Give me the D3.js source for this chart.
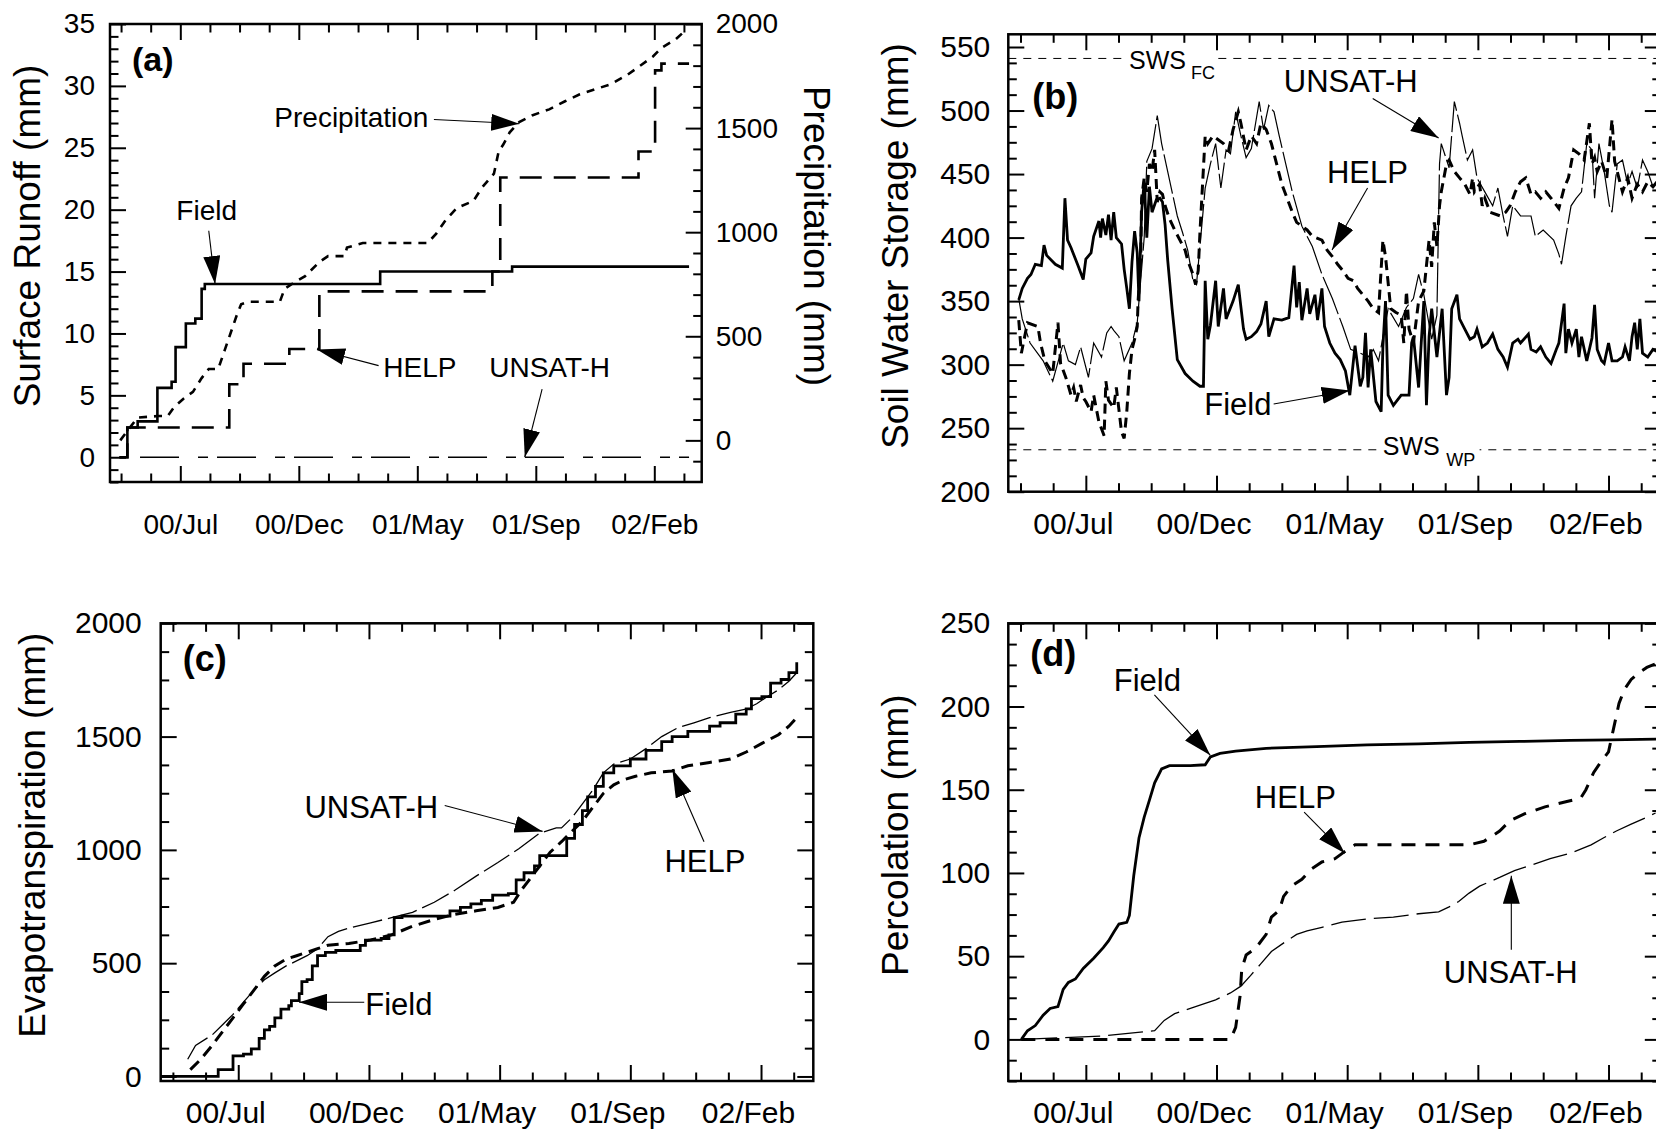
<!DOCTYPE html>
<html>
<head>
<meta charset="utf-8">
<script src="https://cdn.jsdelivr.net/npm/d3@7"></script>
<style>
  body { margin: 0; background: #fff; }
  svg { display: block; }
</style>
</head>
<body>
<svg id="chart" width="1656" height="1130"></svg>
<script>
// Day 0 of every series is 2000-04-07; x values are days since then.
const dayDomain = [0, 749];
const xMajorDays = [89, 239, 389, 539, 689];
const xTickLabels = ["00/Jul", "00/Dec", "01/May", "01/Sep", "02/Feb"];

// (a) cumulative surface runoff (mm) and precipitation (mm)
const runoffField = [[12,0],[22,2.4],[35,2.9],[60,5.6],[78,6.1],[83,8.9],[96,10.8],[108,11.2],[116,13.6],[120,14.0],[342,15.0],[509,15.4],[733,15.4]];
const runoffHelp = [[12,0],[22,2.4],[151,5.9],[169,7.55],[227,8.75],[265,13.4],[484,15.0],[494,22.6],[669,24.7],[690,31.25],[698,31.8],[733,31.8]];
const runoffUnsat = [[38,0],[733,0]];
const precipitation = [[13,0],[23,51],[35,109],[61,117],[73,117],[81,159],[93,200],[105,233],[116,299],[125,343],[137,343],[145,431],[154,530],[160,596],[166,654],[175,666],[215,666],[221,728],[233,758],[247,789],[265,857],[276,885],[297,885],[300,926],[320,948],[402,948],[413,993],[425,1059],[439,1116],[460,1150],[471,1215],[486,1281],[492,1388],[498,1422],[506,1480],[518,1529],[535,1562],[556,1590],[576,1629],[594,1661],[617,1690],[634,1711],[655,1756],[672,1802],[687,1843],[698,1885],[716,1926],[730,1975]];

// (b) soil water storage (mm)
const swsField = [[12,351],[16,360],[22,368],[26,371],[31,379],[38,378],[41,394],[44,386],[54,379],[62,376],[65,431],[68,398],[72,392],[80,378],[86,367],[89,383],[95,388],[98,401],[104,413],[106,400],[108,415],[112,402],[115,418],[118,398],[121,420],[124,400],[130,395],[133,375],[136,360],[139,344],[142,381],[145,405],[148,388],[150,350],[153,420],[156,444],[159,400],[162,440],[165,420],[170,430],[174,431],[177,428],[180,410],[183,382],[188,344],[194,304],[203,293],[212,287],[220,283],[224,283],[226,366],[229,320],[232,331],[238,366],[241,330],[247,360],[250,336],[258,350],[264,363],[270,328],[273,320],[279,322],[285,326],[290,332],[296,350],[299,322],[305,336],[314,335],[322,337],[328,378],[331,345],[334,365],[337,335],[343,360],[346,340],[352,355],[355,335],[360,360],[363,330],[369,317],[375,309],[381,304],[387,295],[392,276],[398,315],[404,283],[407,290],[410,325],[413,282],[416,312],[422,271],[428,263],[430,314],[433,350],[436,276],[442,268],[451,276],[460,276],[463,317],[465,322],[471,282],[474,317],[477,350],[480,268],[483,322],[486,344],[492,306],[498,344],[503,276],[506,290],[509,344],[515,355],[518,336],[524,328],[530,320],[535,322],[538,328],[544,314],[550,317],[556,324],[562,312],[568,306],[573,298],[579,317],[585,320],[588,317],[597,324],[600,312],[606,310],[611,314],[617,306],[623,301],[629,312],[632,317],[638,348],[640,309],[643,328],[647,317],[652,328],[655,306],[658,322],[664,303],[670,321],[673,347],[676,312],[681,303],[684,301],[689,317],[693,303],[699,303],[705,306],[708,314],[713,303],[716,322],[719,333],[722,312],[725,336],[728,309],[734,306],[740,312],[746,310]];
const swsHelp = [[12,335],[15,309],[22,333],[34,330],[37,317],[42,303],[51,293],[57,333],[60,301],[66,290],[72,276],[75,282],[78,271],[83,284],[86,274],[89,271],[95,263],[98,276],[104,255],[110,244],[112,287],[115,272],[121,266],[124,282],[130,247],[133,242],[136,263],[139,293],[142,312],[145,320],[148,330],[149,350],[152,382],[153,431],[156,447],[159,436],[162,458],[165,452],[168,469],[171,428],[174,436],[177,434],[180,425],[185,415],[191,406],[197,398],[203,390],[206,382],[212,371],[215,363],[218,374],[220,404],[226,480],[229,474],[235,480],[241,477],[247,474],[253,469],[258,485],[264,499],[267,490],[273,469],[279,480],[285,474],[290,490],[296,485],[302,474],[308,458],[314,442],[320,431],[326,420],[331,412],[337,409],[343,406],[349,401],[360,398],[366,390],[372,385],[378,379],[384,374],[390,368],[396,366],[401,360],[407,355],[413,350],[419,344],[425,341],[430,398],[433,385],[439,344],[445,341],[451,339],[454,317],[457,358],[460,328],[465,317],[471,350],[477,358],[483,398],[486,377],[489,412],[492,393],[495,425],[497,436],[500,447],[503,458],[506,461],[512,452],[518,447],[524,442],[530,434],[533,447],[535,436],[541,442],[544,425],[547,431],[553,420],[565,417],[571,420],[576,425],[582,436],[588,444],[594,447],[600,434],[605,436],[611,431],[617,436],[623,431],[632,423],[638,439],[643,447],[649,469],[655,466],[661,461],[667,490],[670,458],[673,463],[676,452],[681,460],[687,447],[693,493],[696,460],[699,452],[705,436],[711,447],[716,431],[722,442],[728,436],[734,444],[740,440],[746,445]];
const swsUnsat = [[12,352],[16,336],[25,317],[40,303],[51,287],[63,317],[69,303],[77,300],[83,314],[92,290],[98,317],[107,306],[113,325],[118,330],[121,327],[127,322],[133,303],[142,317],[148,333],[150,350],[156,400],[159,460],[165,470],[171,496],[176,474],[182,455],[188,436],[194,417],[200,404],[206,390],[212,366],[216,363],[226,439],[232,458],[238,474],[244,439],[250,469],[255,466],[261,499],[267,480],[273,463],[279,470],[288,507],[293,485],[299,504],[305,499],[311,480],[326,436],[337,409],[349,393],[360,371],[372,352],[384,330],[393,312],[404,309],[413,306],[419,312],[425,303],[436,344],[448,330],[457,345],[465,352],[471,371],[477,355],[486,320],[492,339],[495,458],[497,474],[506,455],[512,507],[518,490],[521,480],[527,461],[533,469],[538,447],[547,436],[556,425],[562,439],[568,417],[573,401],[579,425],[588,417],[600,417],[605,401],[614,406],[626,398],[632,387],[635,379],[640,401],[646,425],[652,431],[658,436],[664,474],[670,469],[673,431],[678,474],[684,452],[690,425],[693,420],[699,458],[705,461],[711,442],[716,452],[722,439],[728,461],[734,452],[740,440],[746,445]];
const swsFieldCapacity = 541;
const swsWiltingPoint = 233;

// (c) cumulative evapotranspiration (mm)
const etField = [[0,0],[64,0],[66,30],[83,91],[95,99],[104,122],[113,168],[119,206],[125,221],[131,259],[138,297],[147,312],[150,335],[159,366],[162,419],[168,427],[174,488],[180,533],[189,548],[201,556],[226,556],[229,579],[235,602],[253,609],[262,625],[268,701],[277,708],[326,708],[332,731],[344,746],[356,762],[368,777],[381,800],[399,807],[408,868],[417,899],[429,929],[435,975],[460,975],[466,1051],[475,1112],[484,1173],[490,1234],[499,1280],[508,1340],[520,1371],[539,1401],[557,1439],[575,1478],[587,1500],[605,1523],[630,1546],[642,1561],[660,1599],[672,1622],[678,1668],[690,1676],[700,1736],[712,1752],[721,1782],[730,1828]];
const etHelp = [[34,30],[46,76],[59,137],[71,198],[83,259],[95,320],[107,381],[119,442],[131,488],[144,518],[156,533],[168,548],[180,564],[192,579],[216,587],[241,602],[265,625],[289,663],[314,693],[338,716],[362,731],[387,746],[405,769],[414,823],[423,868],[435,929],[447,990],[460,1036],[472,1082],[484,1127],[496,1188],[508,1249],[520,1287],[532,1310],[545,1325],[563,1340],[587,1348],[605,1371],[630,1386],[654,1401],[672,1432],[690,1470],[709,1508],[721,1546],[730,1584]];
const etUnsat = [[31,76],[40,137],[59,183],[71,228],[83,274],[95,328],[107,381],[119,427],[131,457],[144,488],[156,510],[168,533],[180,564],[192,617],[204,640],[216,655],[241,678],[265,701],[289,724],[314,769],[338,823],[362,884],[387,944],[411,1005],[435,1074],[454,1097],[460,1097],[472,1142],[484,1203],[496,1264],[508,1340],[520,1379],[539,1401],[557,1447],[575,1500],[593,1538],[612,1561],[630,1584],[654,1607],[672,1622],[684,1645],[696,1676],[709,1706],[721,1744],[730,1782]];

// (d) cumulative percolation (mm)
const percField = [[15,0],[22,5.2],[31,8.3],[40,14.5],[48,18.6],[57,19.7],[63,30],[69,34.2],[77,36.3],[86,42.6],[98,48.8],[109,55.1],[115,59.2],[121,64.4],[127,69.3],[136,70.3],[139,74.5],[144,98.3],[150,121],[156,133.5],[162,143.8],[168,154.2],[176,162.5],[185,164.5],[209,164.5],[226,165],[232,169.7],[243,171.8],[261,173.2],[296,174.9],[354,175.9],[412,176.9],[471,177.6],[529,178.4],[587,179],[645,179.6],[692,180],[749,180.4]];
const percHelp = [[15,0],[255,0],[261,7.2],[266,25.9],[268,42.4],[273,50.7],[284,54.8],[296,63.1],[302,73.5],[311,77.6],[316,85.9],[325,92.1],[337,96.2],[348,102.4],[360,106.6],[375,108.6],[386,112.8],[398,116.9],[412,116.9],[529,116.9],[546,119],[564,125.2],[576,131.4],[593,135.6],[616,139.7],[640,142.8],[657,144.9],[663,150],[672,160.4],[680,166.6],[689,172.8],[695,187.3],[701,201.8],[707,210.1],[715,216.3],[724,220.4],[733,223.5],[743,225.6]];
const percUnsat = [[16,0],[63,1],[109,2.1],[156,4.6],[168,5.2],[179,11.4],[191,15.5],[209,18.6],[226,21.7],[238,23.8],[255,27.9],[267,32],[278,38.3],[290,45.5],[302,52.8],[319,59],[331,63.1],[343,65.2],[360,67.3],[383,70.4],[412,72.4],[442,73.5],[471,75.5],[494,76.6],[506,79.6],[517,82.8],[529,87.9],[541,92.1],[564,97.3],[581,101.4],[599,104.5],[622,108.6],[645,111.8],[669,116.9],[683,121],[698,125.2],[715,129.3],[733,133.5],[743,136]];

// ---------------------------------------------------------------------------
const FONT = '"Liberation Sans", Arial, Helvetica, sans-serif';
const svg = d3.select("#chart");
const defs = svg.append("defs");
defs.append("marker")
  .attr("id", "head").attr("viewBox", "0 0 28 17")
  .attr("refX", 28).attr("refY", 8.5)
  .attr("markerWidth", 28).attr("markerHeight", 17)
  .attr("markerUnits", "userSpaceOnUse").attr("orient", "auto")
  .append("path").attr("d", "M0,0L28,8.5L0,17Z").attr("fill", "#000");

const xMinorDays = d3.range(14, dayDomain[1], 37.5).filter(d => !xMajorDays.includes(d));
const MAJ = 16, MIN = 8.5;
const intFmt = d3.format("d");

function styleAxis(sel, fs) {
  sel.attr("font-family", null).attr("font-size", null);
  sel.select(".domain").remove();
  sel.selectAll(".tick line").attr("stroke", "#000").attr("stroke-width", 2);
  sel.selectAll(".tick text").attr("fill", "#000")
    .style("font-family", FONT).style("font-size", fs + "px");
  return sel;
}

function makePanel(key, box, yDomain, yMajor, yMinorStep, o) {
  const g = svg.append("g");
  const x = d3.scaleLinear().domain(dayDomain).range([box.left, box.right]);
  const y = d3.scaleLinear().domain(yDomain).range([box.bottom, box.top]);
  const yMinor = d3.range(Math.ceil(yDomain[0] / yMinorStep) * yMinorStep, yDomain[1] + 1e-9, yMinorStep)
    .filter(v => !yMajor.some(m => Math.abs(m - v) < 1e-6));

  defs.append("clipPath").attr("id", "clip-" + key).append("rect")
    .attr("x", box.left).attr("y", box.top)
    .attr("width", box.right - box.left).attr("height", box.bottom - box.top);

  // bottom
  const bx = g.append("g").attr("transform", `translate(0,${box.bottom})`)
    .call(d3.axisBottom(x).tickValues(xMajorDays).tickSize(-MAJ).tickPadding(o.xPad)
      .tickFormat((d, i) => xTickLabels[i]));
  styleAxis(bx, o.tickFs).selectAll(".tick text").attr("x", o.xLabelShift);
  styleAxis(g.append("g").attr("transform", `translate(0,${box.bottom})`)
    .call(d3.axisBottom(x).tickValues(xMinorDays).tickSize(-MIN).tickFormat("")), o.tickFs);
  // top
  styleAxis(g.append("g").attr("transform", `translate(0,${box.top})`)
    .call(d3.axisTop(x).tickValues(xMajorDays).tickSize(-MAJ).tickFormat("")), o.tickFs);
  styleAxis(g.append("g").attr("transform", `translate(0,${box.top})`)
    .call(d3.axisTop(x).tickValues(xMinorDays).tickSize(-MIN).tickFormat("")), o.tickFs);
  // left
  styleAxis(g.append("g").attr("transform", `translate(${box.left},0)`)
    .call(d3.axisLeft(y).tickValues(yMajor).tickSize(-MAJ).tickPadding(o.yPad).tickFormat(intFmt)), o.tickFs);
  styleAxis(g.append("g").attr("transform", `translate(${box.left},0)`)
    .call(d3.axisLeft(y).tickValues(yMinor).tickSize(-MIN).tickFormat("")), o.tickFs);
  // right (mirror) unless the panel has its own right axis
  if (o.mirrorRight) {
    styleAxis(g.append("g").attr("transform", `translate(${box.right},0)`)
      .call(d3.axisRight(y).tickValues(yMajor).tickSize(-MAJ).tickFormat("")), o.tickFs);
    styleAxis(g.append("g").attr("transform", `translate(${box.right},0)`)
      .call(d3.axisRight(y).tickValues(yMinor).tickSize(-MIN).tickFormat("")), o.tickFs);
  }
  // frame
  g.append("rect").attr("x", box.left).attr("y", box.top)
    .attr("width", box.right - box.left).attr("height", box.bottom - box.top)
    .attr("fill", "none").attr("stroke", "#000").attr("stroke-width", 2.5);

  // axis title
  g.append("text")
    .attr("transform", `translate(${o.titleX},${(box.top + box.bottom) / 2 - 17}) rotate(-90)`)
    .attr("text-anchor", "middle").style("font-family", FONT).style("font-size", "37px")
    .text(o.title);
  // panel letter
  g.append("text").attr("x", box.left + o.letterDx).attr("y", box.top + o.letterDy)
    .style("font-family", FONT).style("font-size", o.letterFs + "px").style("font-weight", "bold")
    .text(o.letter);

  const plot = g.append("g").attr("clip-path", `url(#clip-${key})`);
  return { g, plot, x, y, box };
}

function series(p, data, w, dash, curve, yScale) {
  const ys = yScale || p.y;
  p.plot.append("path").datum(data)
    .attr("fill", "none").attr("stroke", "#000").attr("stroke-width", w)
    .attr("stroke-dasharray", dash || null).attr("stroke-linejoin", "miter")
    .attr("d", d3.line().x(d => p.x(d[0])).y(d => ys(d[1])).curve(curve || d3.curveLinear));
}

function note(p, label, fs, tx, ty, x1, y1, x2, y2) {
  p.g.append("text").attr("x", tx).attr("y", ty)
    .style("font-family", FONT).style("font-size", fs + "px").text(label);
  p.g.append("line").attr("x1", x1).attr("y1", y1).attr("x2", x2).attr("y2", y2)
    .attr("stroke", "#000").attr("stroke-width", 1.1).attr("marker-end", "url(#head)");
}

// ---------------- (a) Surface runoff & precipitation ----------------
const pa = makePanel("a", { left: 110, right: 701.7, top: 24, bottom: 482 },
  [-2, 35], d3.range(0, 36, 5), 1,
  { xPad: 32, xLabelShift: 0, yPad: 15, tickFs: 28, mirrorRight: false,
    title: "Surface Runoff (mm)", titleX: 40, letter: "(a)", letterFs: 34, letterDx: 22, letterDy: 47 });
const yPrecip = d3.scaleLinear().domain([-200, 2000]).range([482, 24]);
styleAxis(pa.g.append("g").attr("transform", "translate(701.7,0)")
  .call(d3.axisRight(yPrecip).tickValues([0, 500, 1000, 1500, 2000]).tickSize(-MAJ).tickPadding(14).tickFormat(intFmt)), 28);
styleAxis(pa.g.append("g").attr("transform", "translate(701.7,0)")
  .call(d3.axisRight(yPrecip).tickValues(d3.range(-100, 2000, 100).filter(v => v % 500 !== 0)).tickSize(-MIN).tickFormat("")), 28);
pa.g.append("text")
  .attr("transform", `translate(804,236) rotate(90)`)
  .attr("text-anchor", "middle").style("font-family", FONT).style("font-size", "37px")
  .text("Precipitation (mm)");

series(pa, runoffUnsat, 1.6, "39,19,10,9");
series(pa, precipitation, 2.6, "8,7", d3.curveLinear, yPrecip);
series(pa, runoffHelp, 2.6, "22,12", d3.curveStepAfter);
series(pa, runoffField, 2.6, null, d3.curveStepAfter);

note(pa, "Precipitation", 28, pa.x(208), yPrecip(1506), pa.x(410), yPrecip(1541), pa.x(518), yPrecip(1521));
note(pa, "Field", 28, pa.x(84), pa.y(19.2), pa.x(125), pa.y(18.3), pa.x(133), pa.y(14.0));
note(pa, "HELP", 28, pa.x(346), pa.y(6.5), pa.x(340), pa.y(7.4), pa.x(262), pa.y(8.7));
note(pa, "UNSAT-H", 28, pa.x(480), pa.y(6.5), pa.x(547), pa.y(5.5), pa.x(525), pa.y(0));

// ---------------- (b) Soil water storage ----------------
const pb = makePanel("b", { left: 1008.3, right: 1660.8, top: 34.3, bottom: 491.7 },
  [200, 560], d3.range(200, 551, 50), 12.5,
  { xPad: 21, xLabelShift: -13, yPad: 18, tickFs: 30, mirrorRight: true,
    title: "Soil Water Storage (mm)", titleX: 908, letter: "(b)", letterFs: 36, letterDx: 24, letterDy: 75 });

function swsLevel(p, value, label, sub, dayText, daySub, dText, dSub, boxFrom, boxTo) {
  const ly = p.y(value);
  p.plot.append("line").attr("x1", p.box.left).attr("x2", p.box.right).attr("y1", ly).attr("y2", ly)
    .attr("stroke", "#000").attr("stroke-width", 1).attr("stroke-dasharray", "8,7");
  p.g.append("rect").attr("x", p.x(boxFrom)).attr("width", p.x(boxTo) - p.x(boxFrom))
    .attr("y", ly - 3).attr("height", 6).attr("fill", "#fff");
  p.g.append("text").attr("x", p.x(dayText)).attr("y", ly + dText)
    .style("font-family", FONT).style("font-size", "25px").text(label);
  p.g.append("text").attr("x", p.x(daySub)).attr("y", ly + dSub)
    .style("font-family", FONT).style("font-size", "18px").text(sub);
}
swsLevel(pb, swsFieldCapacity, "SWS", "FC", 138.6, 209.7, 10.8, 21, 136, 238);
swsLevel(pb, swsWiltingPoint, "SWS", "WP", 429.9, 502.8, 4.8, 16.7, 427, 541);

series(pb, swsUnsat, 1.2, "40,4");
series(pb, swsHelp, 3, "10,6");
series(pb, swsField, 2.8, null);

note(pb, "UNSAT-H", 31, pb.x(316.3), pb.y(514.6), pb.x(418.3), pb.y(509.5), pb.x(494), pb.y(478.4));
note(pb, "HELP", 31, pb.x(365.8), pb.y(442.6), pb.x(412.4), pb.y(439), pb.x(371.6), pb.y(390.2));
note(pb, "Field", 31, pb.x(224.9), pb.y(260.4), pb.x(304.6), pb.y(269), pb.x(392), pb.y(279.6));

// ---------------- (c) Evapotranspiration ----------------
const pc = makePanel("c", { left: 160.7, right: 813.3, top: 623.3, bottom: 1081 },
  [-20, 2000], d3.range(0, 2001, 500), 125,
  { xPad: 21, xLabelShift: -13, yPad: 19, tickFs: 30, mirrorRight: true,
    title: "Evapotranspiration (mm)", titleX: 45, letter: "(c)", letterFs: 36, letterDx: 22, letterDy: 48 });
series(pc, etUnsat, 1.3, "30,6");
series(pc, etHelp, 3, "12,7");
series(pc, etField, 2.8, null, d3.curveStepAfter);

note(pc, "UNSAT-H", 31, pc.x(164.9), pc.y(1139), pc.x(326), pc.y(1196), pc.x(438.3), pc.y(1081.6));
note(pc, "HELP", 31, pc.x(578.1), pc.y(903), pc.x(623.6), pc.y(1035.7), pc.x(587.2), pc.y(1355.5));
note(pc, "Field", 31, pc.x(234.8), pc.y(270.4), pc.x(233.6), pc.y(327.7), pc.x(158.8), pc.y(327.7));

// ---------------- (d) Percolation ----------------
const pd = makePanel("d", { left: 1008.3, right: 1660.8, top: 623.3, bottom: 1081 },
  [-25, 250], d3.range(0, 251, 50), 12.5,
  { xPad: 21, xLabelShift: -13, yPad: 18, tickFs: 30, mirrorRight: true,
    title: "Percolation (mm)", titleX: 908, letter: "(d)", letterFs: 36, letterDx: 22, letterDy: 43 });
series(pd, percUnsat, 1.3, "35,8");
series(pd, percHelp, 3, "14,10");
series(pd, percField, 2.8, null);

note(pd, "Field", 31, pd.x(121.1), pd.y(209.5), pd.x(167.7), pd.y(207), pd.x(231.9), pd.y(170.7));
note(pd, "HELP", 31, pd.x(283), pd.y(139.3), pd.x(339.6), pd.y(136.6), pd.x(386.3), pd.y(111.8));
note(pd, "UNSAT-H", 31, pd.x(499.9), pd.y(33.8), pd.x(577.4), pd.y(53.8), pd.x(577.4), pd.y(98.3));
</script>
</body>
</html>
